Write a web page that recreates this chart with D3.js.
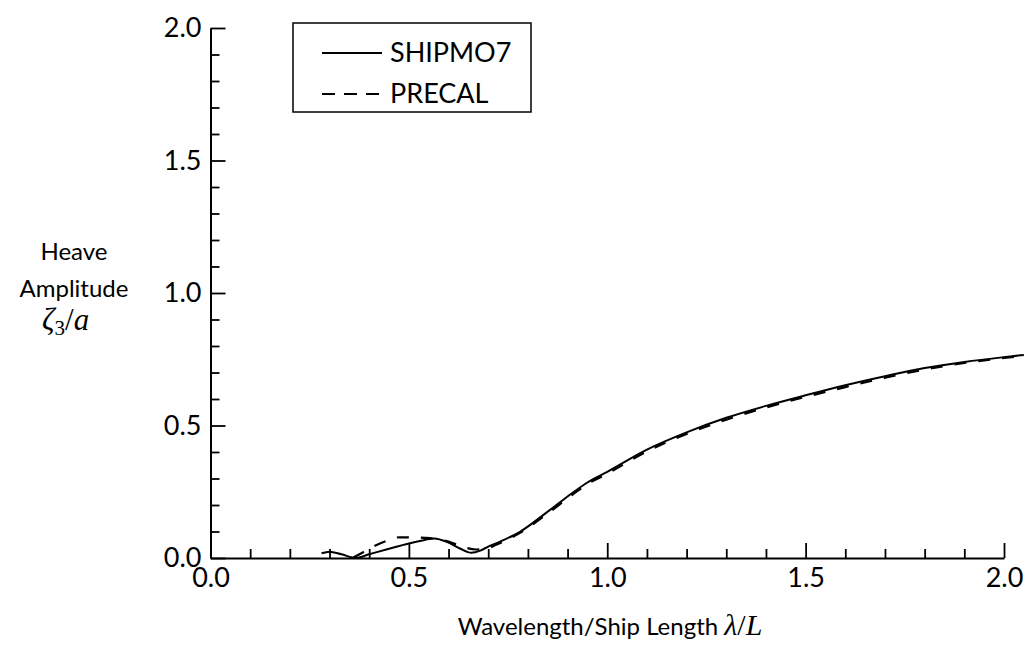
<!DOCTYPE html>
<html>
<head>
<meta charset="utf-8">
<script src="https://cdn.jsdelivr.net/npm/d3@7"></script>
<style>
  body { margin: 0; background: #fff; }
  svg { display: block; }
</style>
</head>
<body>
<div id="chart"></div>
<script>
// heave response
const shipmoX = [0.28, 0.30, 0.33, 0.367, 0.40, 0.45, 0.50, 0.54, 0.564, 0.60, 0.63, 0.657, 0.68, 0.70, 0.73, 0.78, 0.85, 0.90, 0.95, 1.00, 1.10, 1.20, 1.30, 1.40, 1.50, 1.60, 1.70, 1.80, 1.90, 2.00, 2.05];
const shipmoY = [0.018, 0.024, 0.014, 0.0, 0.014, 0.035, 0.055, 0.068, 0.074, 0.058, 0.035, 0.020, 0.028, 0.043, 0.062, 0.099, 0.175, 0.232, 0.285, 0.325, 0.409, 0.474, 0.529, 0.574, 0.614, 0.652, 0.686, 0.717, 0.740, 0.758, 0.766];

const precalX = [0.36, 0.385, 0.413, 0.443, 0.476, 0.505, 0.54, 0.564, 0.60, 0.63, 0.67, 0.694, 0.72, 0.78, 0.85, 0.90, 0.95, 1.00, 1.10, 1.20, 1.30, 1.40, 1.50, 1.60, 1.70, 1.80, 1.90, 2.00, 2.05];
const precalY = [0.002, 0.022, 0.045, 0.064, 0.078, 0.078, 0.076, 0.073, 0.062, 0.045, 0.032, 0.034, 0.050, 0.095, 0.168, 0.225, 0.279, 0.318, 0.402, 0.468, 0.522, 0.568, 0.608, 0.645, 0.680, 0.711, 0.736, 0.755, 0.763];

const xMajor = [0, 0.5, 1.0, 1.5, 2.0];
const yMajor = [0, 0.5, 1.0, 1.5, 2.0];
const minorTicks = [0.1, 0.2, 0.3, 0.4, 0.6, 0.7, 0.8, 0.9, 1.1, 1.2, 1.3, 1.4, 1.6, 1.7, 1.8, 1.9];

const width = 1026, height = 652;
const font = "Lato, 'Open Sans', sans-serif";
const mathFont = "'Liberation Serif', serif";

const svg = d3.select("#chart").append("svg")
    .attr("width", width)
    .attr("height", height);

const x = d3.scaleLinear().domain([0, 2]).range([210.5, 1004]);
const y = d3.scaleLinear().domain([0, 2]).range([558, 28]);

// minor ticks, pointing inward
svg.append("g")
    .attr("transform", `translate(0,${y(0)})`)
    .call(d3.axisBottom(x).tickValues(minorTicks).tickSize(-9).tickFormat("").tickSizeOuter(0))
    .call(g => g.select(".domain").remove());
svg.append("g")
    .attr("transform", `translate(${x(0)},0)`)
    .call(d3.axisLeft(y).tickValues(minorTicks).tickSize(-9).tickFormat("").tickSizeOuter(0))
    .call(g => g.select(".domain").remove());

// major ticks + labels
const xAxis = svg.append("g")
    .attr("transform", `translate(0,${y(0)})`)
    .call(d3.axisBottom(x).tickValues(xMajor).tickSize(-15).tickSizeOuter(0).tickPadding(10).tickFormat(d3.format(".1f")));
const yAxis = svg.append("g")
    .attr("transform", `translate(${x(0)},0)`)
    .call(d3.axisLeft(y).tickValues(yMajor).tickSize(-15).tickSizeOuter(0).tickPadding(9).tickFormat(d3.format(".1f")));

svg.selectAll(".tick line").attr("stroke", "#000").attr("stroke-width", 1.8);
svg.selectAll(".domain").attr("stroke", "#000").attr("stroke-width", 2);
[xAxis, yAxis].forEach(a => a.attr("font-family", font).attr("font-size", 27));
xAxis.selectAll("text").attr("fill", "#000");
yAxis.selectAll("text").attr("fill", "#000");

// curves
const line = d3.line()
    .x(d => x(d[0]))
    .y(d => y(d[1]))
    .curve(d3.curveMonotoneX);

svg.append("path")
    .datum(d3.zip(shipmoX, shipmoY))
    .attr("fill", "none")
    .attr("stroke", "#000")
    .attr("stroke-width", 2)
    .attr("d", line);

svg.append("path")
    .datum(d3.zip(precalX, precalY))
    .attr("fill", "none")
    .attr("stroke", "#000")
    .attr("stroke-width", 2.2)
    .attr("stroke-dasharray", "12,12")
    .attr("d", line);

// y axis label
const yl = svg.append("text")
    .attr("font-family", font)
    .attr("font-size", 24)
    .attr("text-anchor", "middle");
yl.append("tspan").attr("x", 74).attr("y", 260).text("Heave");
yl.append("tspan").attr("x", 74).attr("y", 297).text("Amplitude");

const zeta = svg.append("text")
    .attr("x", 42)
    .attr("y", 330)
    .attr("font-family", mathFont)
    .attr("font-size", 31);
zeta.append("tspan").attr("font-style", "italic").text("ζ");
zeta.append("tspan").attr("font-size", 21).attr("dy", 5).text("3");
zeta.append("tspan").attr("dy", -5).text("/");
zeta.append("tspan").attr("font-style", "italic").text("a");

// x axis label
const xl = svg.append("text")
    .attr("x", 610)
    .attr("y", 635)
    .attr("text-anchor", "middle")
    .attr("font-family", font)
    .attr("font-size", 24);
xl.append("tspan").text("Wavelength/Ship Length ");
xl.append("tspan").attr("font-family", mathFont).attr("font-style", "italic").attr("font-size", 30).text("λ");
xl.append("tspan").attr("font-family", mathFont).attr("font-size", 30).text("/");
xl.append("tspan").attr("font-family", mathFont).attr("font-style", "italic").attr("font-size", 30).text("L");

// legend
const legendItems = [
    { name: "SHIPMO7", dash: null },
    { name: "PRECAL", dash: "13,9" }
];
const legend = svg.append("g").attr("transform", "translate(293,23)");
legend.append("rect")
    .attr("width", 238)
    .attr("height", 89)
    .attr("fill", "#fff")
    .attr("stroke", "#000")
    .attr("stroke-width", 1.5);
legend.selectAll(".legend-item")
    .data(legendItems)
    .enter().append("g")
    .attr("class", "legend-item")
    .attr("transform", (d, i) => `translate(0,${30 + i * 41})`)
    .each(function(d) {
        const item = d3.select(this);
        item.append("line")
            .attr("x1", 29).attr("x2", 89)
            .attr("stroke", "#000")
            .attr("stroke-width", 2)
            .attr("stroke-dasharray", d.dash);
        item.append("text")
            .attr("x", 97)
            .attr("y", 9)
            .attr("font-family", font)
            .attr("font-size", 27)
            .text(d.name);
    });
</script>
</body>
</html>
